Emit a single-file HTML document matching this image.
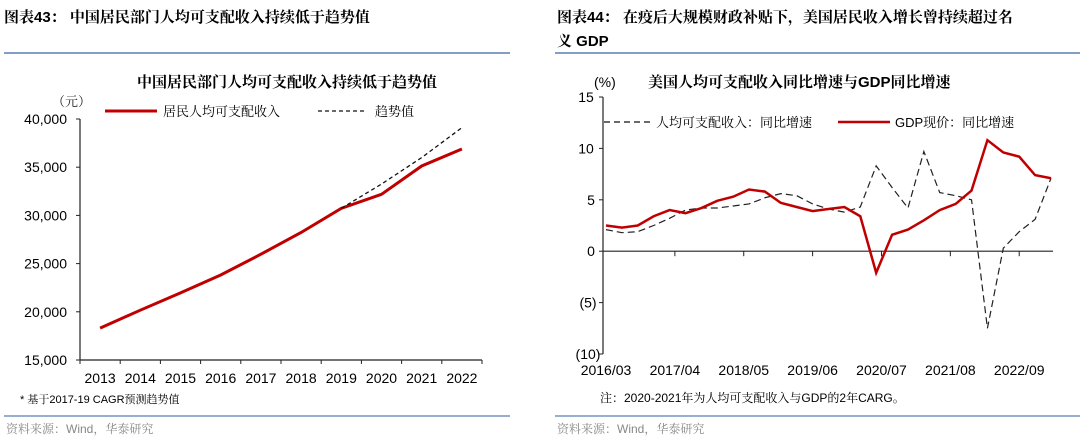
<!DOCTYPE html>
<html><head><meta charset="utf-8">
<style>
body{margin:0;width:1080px;height:440px;background:#fff;overflow:hidden;font-family:"Liberation Sans","Noto Serif CJK SC",serif;color:#111}
svg text{font-family:"Liberation Sans","Noto Serif CJK SC",serif}
</style></head><body>
<svg width="1080" height="440">
<g>
<text x="4" y="22" font-size="15" font-weight="bold">图表43：  中国居民部门人均可支配收入持续低于趋势值</text>
<line x1="4" y1="53" x2="510" y2="53" stroke="#5a7db0" stroke-width="1.5"/>
<text x="287" y="87" font-size="15" font-weight="bold" text-anchor="middle">中国居民部门人均可支配收入持续低于趋势值</text>
<text x="52" y="106" font-size="13" fill="#222">（元）</text>
<g id="lg">
<line x1="105" y1="111" x2="157" y2="111" stroke="#c00000" stroke-width="3"/>
<text x="163" y="116" font-size="13">居民人均可支配收入</text>
<line x1="318" y1="111" x2="365" y2="111" stroke="#111" stroke-width="1.3" stroke-dasharray="4,3"/>
<text x="375" y="116" font-size="13">趋势值</text>
</g>
<g id="left"></g>
<text x="20" y="403" font-size="11">* 基于2017-19 CAGR预测趋势值</text>
<line x1="4" y1="416" x2="510" y2="416" stroke="#5a7db0" stroke-width="1.2"/>
<text x="6" y="433" font-size="12" fill="#888">资料来源：Wind，华泰研究</text>
</g>
<g>
<text x="557" y="22" font-size="15" font-weight="bold">图表44：  在疫后大规模财政补贴下，美国居民收入增长曾持续超过名</text>
<text x="557" y="46" font-size="15" font-weight="bold">义 GDP</text>
<line x1="555" y1="53" x2="1080" y2="53" stroke="#5a7db0" stroke-width="1.5"/>
<text x="594" y="87" font-size="14">(%)</text>
<text x="648" y="87" font-size="15" font-weight="bold">美国人均可支配收入同比增速与GDP同比增速</text>
<g>
<line x1="604" y1="122" x2="650" y2="122" stroke="#111" stroke-width="1.2" stroke-dasharray="6,4"/>
<text x="656" y="127" font-size="13">人均可支配收入：同比增速</text>
<line x1="838" y1="122" x2="890" y2="122" stroke="#c00000" stroke-width="2.5"/>
<text x="895" y="127" font-size="13">GDP现价：同比增速</text>
</g>
<g id="right"></g>
<text x="600" y="402" font-size="12">注：2020-2021年为人均可支配收入与GDP的2年CARG。</text>
<line x1="555" y1="416" x2="1080" y2="416" stroke="#5a7db0" stroke-width="1.2"/>
<text x="557" y="433" font-size="12" fill="#888">资料来源：Wind，华泰研究</text>
</g>
</svg>
<script>
const NS="http://www.w3.org/2000/svg";
function mk(p,t,a){const e=document.createElementNS(NS,t);for(const k in a)e.setAttribute(k,a[k]);p.appendChild(e);return e;}
// Left chart data
const years=["2013","2014","2015","2016","2017","2018","2019","2020","2021","2022"];
const income=[18311,20167,21966,23821,25974,28228,30733,32189,35128,36883];
const trend=[null,null,null,null,null,null,30733,33250,36000,39100];
const leftTicks=[15000,20000,25000,30000,35000,40000];
// Right chart data
const quarters=29;
const rightLabels=["2016/03","2017/04","2018/05","2019/06","2020/07","2021/08","2022/09"];
const gdp=[2.5,2.3,2.5,3.4,4.0,3.7,4.2,4.9,5.3,6.0,5.8,4.7,4.3,3.9,4.1,4.3,3.4,-2.1,1.6,2.1,3.0,4.0,4.6,5.9,10.8,9.6,9.2,7.4,7.1];
const dispIncome=[2.1,1.8,1.9,2.5,3.2,4.0,4.2,4.2,4.4,4.6,5.2,5.6,5.4,4.6,4.1,3.8,4.3,8.3,6.2,4.2,9.7,5.7,5.4,5.0,-7.5,0.3,1.9,3.1,7.1];
const rightTicks=[15,10,5,0,-5,-10];

(function(){
const g=document.getElementById('left');
const x0=80,x1=482,yB=360,yT=119;
const X=i=>x0+(i+0.5)*(x1-x0)/years.length;
const Y=v=>yB-(v-15000)/(40000-15000)*(yB-yT);
let e=mk(g,'line',{x1:x0,y1:yT,x2:x0,y2:yB,stroke:'#222','stroke-width':1.2});


e=mk(g,'line',{x1:x0,y1:yB,x2:x1,y2:yB,stroke:'#222','stroke-width':1.2});


leftTicks.forEach(v=>{mk(g,'line',{x1:x0-4,y1:Y(v),x2:x0,y2:Y(v),stroke:'#222'});
const t=mk(g,'text',{x:x0-13,y:Y(v)+5,'font-size':14,'text-anchor':'end'});t.textContent=v.toLocaleString('en-US');

});
for(let i=0;i<=years.length;i++){const xx=x0+i*(x1-x0)/years.length;mk(g,'line',{x1:xx,y1:yB,x2:xx,y2:yB+4,stroke:'#222'});}
years.forEach((y,i)=>{const t=mk(g,'text',{x:X(i),y:yB+23,'font-size':14,'text-anchor':'middle'});t.textContent=y;

});
e=mk(g,'polyline',{points:income.map((v,i)=>X(i)+','+Y(v)).join(' '),fill:'none',stroke:'#c00000','stroke-width':3});


e=mk(g,'polyline',{points:trend.map((v,i)=>v==null?null:X(i)+','+Y(v)).filter(Boolean).join(' '),fill:'none',stroke:'#111','stroke-width':1.3,'stroke-dasharray':'4,3'});


})();

(function(){
const g=document.getElementById('right');
const x0=606,x1=1051,yT=97,yB=354;
const X=i=>x0+i*(x1-x0)/(quarters-1);
const Y=v=>yT+(15-v)/25*(yB-yT);
let e=mk(g,'line',{x1:603,y1:yT,x2:603,y2:yB,stroke:'#222','stroke-width':1.2});


e=mk(g,'line',{x1:603,y1:Y(0),x2:1053,y2:Y(0),stroke:'#222','stroke-width':1.2});


rightTicks.forEach(v=>{mk(g,'line',{x1:599,y1:Y(v),x2:603,y2:Y(v),stroke:'#222'});
const t=mk(g,'text',{x:v<0?588:v>=10?586:591,y:Y(v)+5,'font-size':14,'text-anchor':'middle'});t.textContent=v<0?'('+(-v)+')':String(v);

});
rightLabels.forEach((l,k)=>{const xx=X(k*13/3);if(k>0)mk(g,'line',{x1:xx,y1:Y(0),x2:xx,y2:Y(0)+5,stroke:'#222'});
const t=mk(g,'text',{x:xx,y:375,'font-size':14,'text-anchor':'middle'});t.textContent=l;

});
e=mk(g,'polyline',{points:dispIncome.map((v,i)=>X(i)+','+Y(v)).join(' '),fill:'none',stroke:'#222','stroke-width':1.2,'stroke-dasharray':'7,4'});


e=mk(g,'polyline',{points:gdp.map((v,i)=>X(i)+','+Y(v)).join(' '),fill:'none',stroke:'#c00000','stroke-width':2.5});


})();
</script>
</body></html>
